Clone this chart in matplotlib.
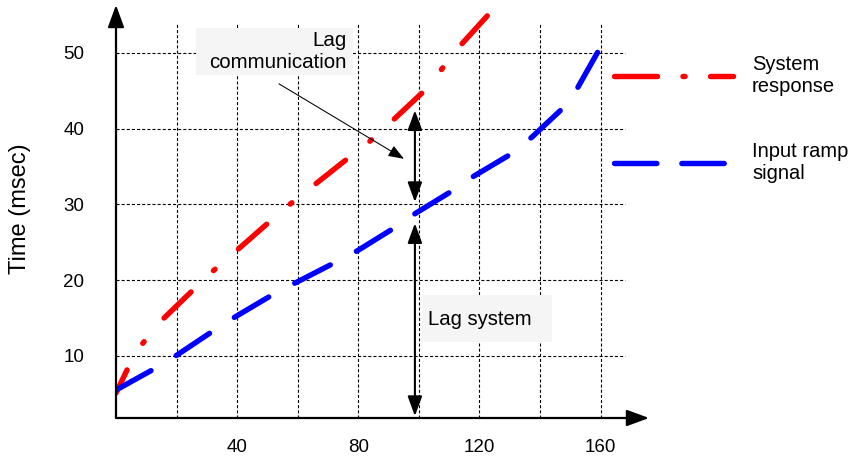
"""
Lag diagram: input ramp signal vs. system response (time in msec).
"""

import matplotlib
matplotlib.use('Agg')
from matplotlib import pyplot as plt
from matplotlib.patches import Rectangle
from matplotlib.lines import Line2D

plt.rcParams['font.family'] = ['Liberation Sans', 'DejaVu Sans']
plt.rcParams['lines.scale_dashes'] = False

# --- data ------------------------------------------------------------------
resp_x = [0, 3.96, 8.92, 15.19, 25.10, 32.03, 39.30, 50.20, 57.13, 65.06,
          76.29, 83.55, 90.82, 101.39, 107.33, 113.28, 122.85]
resp_y = [5.10, 8.40, 11.70, 14.73, 18.56, 21.20, 23.71, 27.53, 29.91, 32.42,
          35.98, 38.22, 40.86, 44.82, 47.72, 50.76, 54.98]

ramp_x = [0, 12.55, 20.15, 32.03, 39.30, 51.52, 59.11, 71.99, 79.59, 91.81,
          99.08, 110.96, 118.23, 130.45, 137.38, 147.62, 152.58, 159.84]
ramp_y = [5.49, 8.27, 10.11, 13.28, 15.13, 18.03, 19.61, 22.25, 23.84, 26.87,
          28.85, 31.76, 33.73, 36.64, 38.88, 42.71, 45.48, 50.63]

series_labels = ['System\nresponse', 'Input ramp\nsignal']

x_ticks = [40, 80, 120, 160]
y_ticks = [10, 20, 30, 40, 50]
x_grid = [20, 40, 60, 80, 100, 120, 140, 160]
y_grid = [10, 20, 30, 40, 50]

# lag markers (data coords)
lag_x = 98.7
lag_comm = (42.4, 30.3)
lag_sys = (27.5, 2.06)

# --- figure ------------------------------------------------------------------
X0, X1 = 0, 176
Y0, Y1 = 1.8, 56.3

fig = plt.figure(figsize=(8.55, 4.57), dpi=100)
ax = fig.add_axes([116 / 855, 39 / 457, 533 / 855, 413 / 457])
ax.set_xlim(X0, X1)
ax.set_ylim(Y0, Y1)
for s in ax.spines.values():
    s.set_visible(False)

# partial dashed grid
grid_kw = dict(colors='black', linewidth=0.8, linestyles=(0, (2.2, 1.5)), zorder=1)
ax.vlines(x_grid, Y0, 53.8, **grid_kw)
ax.hlines(y_grid, X0, 168, **grid_kw)

# axes drawn as arrows
ax_arrow = dict(arrowstyle='-|>,head_length=0.68,head_width=0.25',
                mutation_scale=20, lw=1.6, color='black',
                shrinkA=0, shrinkB=0)
ax.annotate('', xy=(X1, Y0), xytext=(X0, Y0), arrowprops=ax_arrow,
            annotation_clip=False, zorder=5)
ax.annotate('', xy=(X0, Y1), xytext=(X0, Y0), arrowprops=ax_arrow,
            annotation_clip=False, zorder=5)

# curves
LW = 3.9
red_dash = (27.0, 22.3, 1.5, 22.3)
blue_dash = (28.8, 21.2)
ax.plot(resp_x, resp_y, color='#ff0000', lw=LW, linestyle=(8.6, red_dash),
        dash_capstyle='round', zorder=3)
ax.plot(ramp_x, ramp_y, color='#0000ff', lw=LW, linestyle=(0, blue_dash),
        dash_capstyle='round', zorder=3)

# text boxes
box_kw = dict(facecolor='#f5f5f5', edgecolor='none', zorder=2)
ax.add_patch(Rectangle((26.4, 47.1), 51.9, 6.2, **box_kw))
ax.add_patch(Rectangle((101.1, 11.8), 42.9, 6.2, **box_kw))
ax.text(76.0, 50.1, 'Lag\ncommunication', ha='right', va='center',
        multialignment='right', fontsize=14.8, linespacing=1.2, zorder=4)
ax.text(103.0, 14.8, 'Lag system', ha='left', va='center', fontsize=14.6, zorder=4)

# lag arrows
dbl = dict(arrowstyle='<|-|>,head_length=0.6,head_width=0.22',
           mutation_scale=20, lw=1.5, color='black', shrinkA=0, shrinkB=0)
ax.annotate('', xy=(lag_x, lag_comm[0]), xytext=(lag_x, lag_comm[1]),
            arrowprops=dbl, zorder=5)
ax.annotate('', xy=(lag_x, lag_sys[0]), xytext=(lag_x, lag_sys[1]),
            arrowprops=dbl, annotation_clip=False, zorder=5)
ax.annotate('', xy=(95.1, 36.0), xytext=(53.8, 45.9),
            arrowprops=dict(arrowstyle='-|>,head_length=0.8,head_width=0.3',
                            mutation_scale=12, lw=0.75, color='black',
                            shrinkA=0, shrinkB=0), zorder=5)

# ticks & labels
ax.set_xticks(x_ticks)
ax.set_yticks(y_ticks)
ax.tick_params(axis='both', length=0, labelsize=13.5)
ax.tick_params(axis='x', pad=15)
ax.tick_params(axis='y', pad=23)
ax.set_ylabel('Time (msec)', fontsize=17)
ax.yaxis.set_label_coords(-0.160, 0.508)

# legend (proxy handles: same styles, pattern starting at zero)
handles = [
    Line2D([], [], color='#ff0000', lw=LW, linestyle=(0, (31.0, 18.3, 1.5, 18.3)),
           dash_capstyle='round'),
    Line2D([], [], color='#0000ff', lw=LW, linestyle=(0, (30.5, 18.0)),
           dash_capstyle='round'),
]
ax.legend(handles, series_labels, loc='upper left',
          bbox_to_anchor=(614 / 855, 1 - 55 / 457),
          bbox_transform=fig.transFigure, frameon=False, fontsize=14.5,
          handlelength=5.9, handletextpad=0.95, labelspacing=2.3,
          borderpad=0, borderaxespad=0)

fig.savefig('out.png', dpi=100, facecolor='white')
